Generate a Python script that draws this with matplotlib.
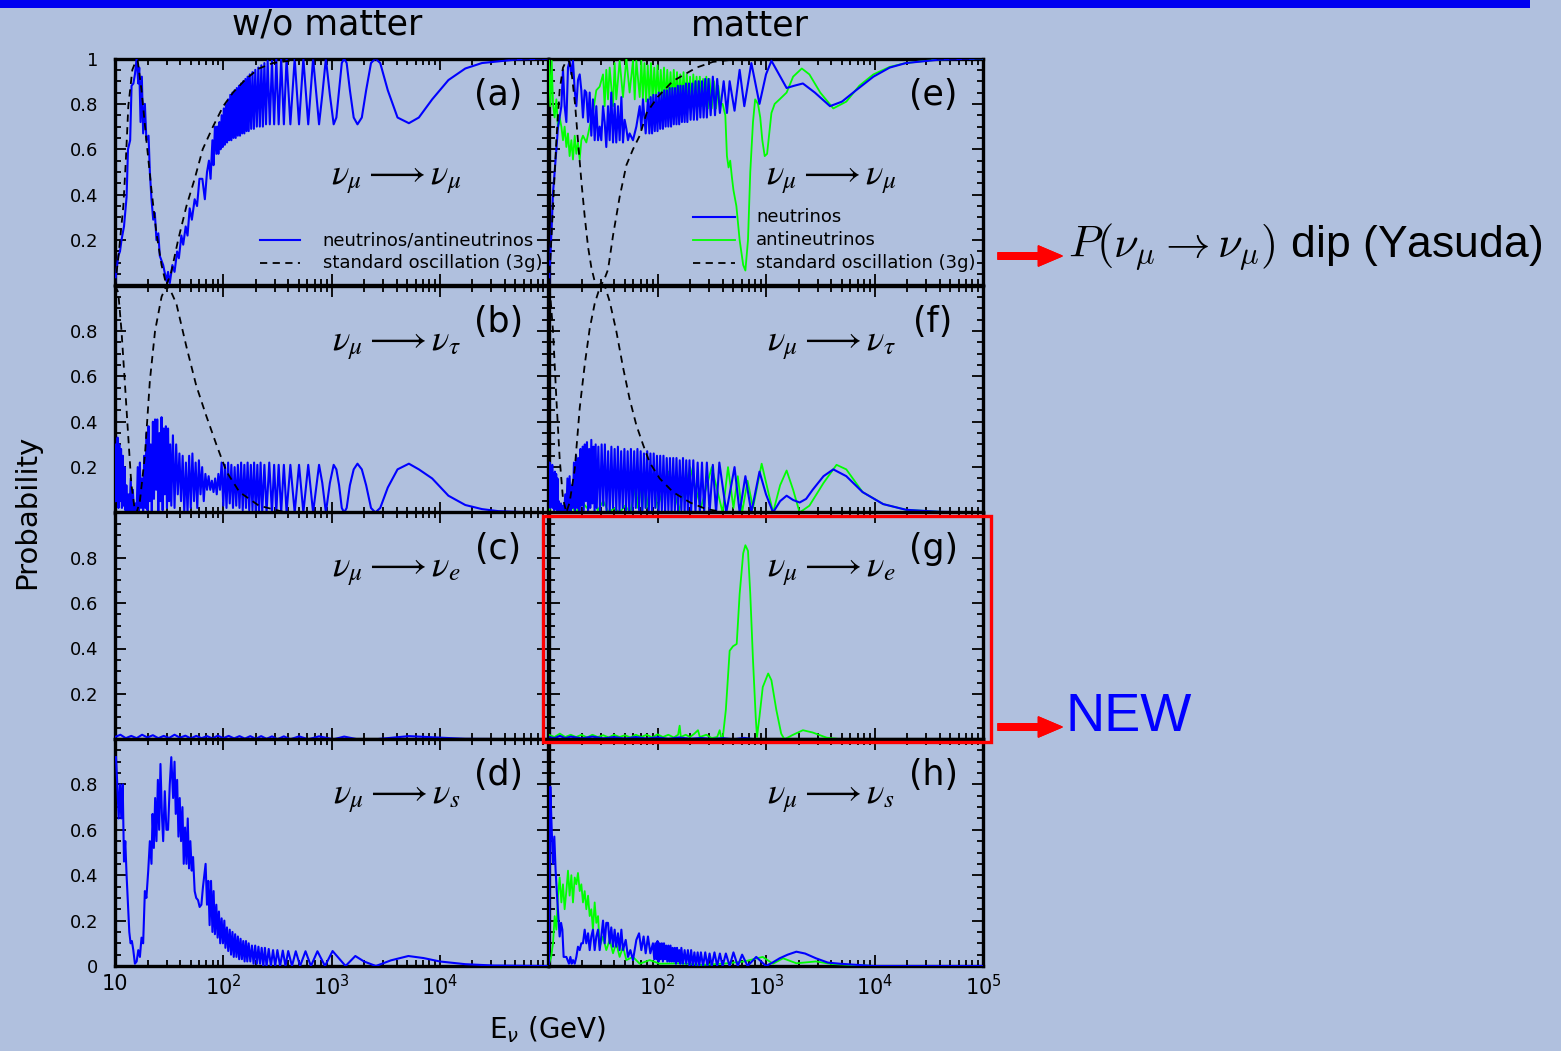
import matplotlib
matplotlib.use('Agg')
import numpy as np
import matplotlib.pyplot as plt
from matplotlib.patches import Rectangle
from matplotlib.ticker import MultipleLocator, NullFormatter

# curves as (log10 E [GeV], probability)

# (a) nu_mu -> nu_mu, no matter
a_nu = [(1.00, 0.01), (1.03, 0.13), (1.046, 0.15), (1.06, 0.20), (1.083, 0.26), (1.107, 0.39),
        (1.12, 0.60), (1.14, 0.64), (1.153, 0.88), (1.17, 0.89), (1.184, 0.93), (1.20, 1.00),
        (1.215, 0.89), (1.224, 0.96), (1.236, 0.72), (1.248, 0.92), (1.26, 0.67), (1.276, 0.80),
        (1.29, 0.64), (1.31, 0.66), (1.322, 0.50), (1.337, 0.38), (1.353, 0.29), (1.368, 0.32),
        (1.383, 0.20), (1.40, 0.23), (1.414, 0.13), (1.445, 0.09), (1.475, 0.02), (1.49, 0.06),
        (1.506, 0.01), (1.53, 0.09), (1.55, 0.06), (1.574, 0.15), (1.59, 0.12), (1.613, 0.22),
        (1.63, 0.18), (1.653, 0.26), (1.67, 0.22), (1.69, 0.34), (1.71, 0.29), (1.736, 0.38),
        (1.758, 0.35), (1.78, 0.47), (1.807, 0.47), (1.83, 0.38), (1.85, 0.50), (1.868, 0.55),
        (1.883, 0.47), (1.90, 0.64), (1.91, 0.53), (1.923, 0.70), (1.936, 0.58),
        (1.945, 0.70), (1.955, 0.58), (1.965, 0.72), (1.975, 0.60), (1.985, 0.75), (1.995, 0.61),
        (2.005, 0.78), (2.015, 0.62), (2.025, 0.80), (2.035, 0.63), (2.045, 0.82), (2.055, 0.64),
        (2.065, 0.84), (2.075, 0.64), (2.085, 0.85), (2.095, 0.65), (2.105, 0.86), (2.115, 0.65),
        (2.125, 0.87), (2.135, 0.66), (2.145, 0.88), (2.155, 0.66), (2.165, 0.89), (2.175, 0.67),
        (2.185, 0.90), (2.195, 0.67), (2.205, 0.91), (2.215, 0.68), (2.225, 0.92), (2.235, 0.68),
        (2.245, 0.93), (2.258, 0.69), (2.27, 0.94), (2.283, 0.69), (2.296, 0.95), (2.31, 0.70),
        (2.324, 0.96), (2.338, 0.70), (2.352, 0.97), (2.366, 0.70), (2.38, 0.98), (2.395, 0.71),
        (2.41, 0.99), (2.43, 0.71), (2.45, 0.99), (2.47, 0.71), (2.49, 1.0), (2.512, 0.71),
        (2.535, 1.0), (2.56, 0.71), (2.585, 1.0), (2.62, 0.71), (2.66, 1.0), (2.70, 0.71),
        (2.74, 1.0), (2.785, 0.71), (2.83, 1.0), (2.885, 0.71), (2.915, 0.84), (2.948, 1.0),
        (2.985, 0.84), (3.02, 0.71), (3.045, 0.74), (3.07, 0.86), (3.095, 0.98), (3.117, 1.0),
        (3.14, 0.98), (3.17, 0.86), (3.205, 0.74), (3.24, 0.71), (3.28, 0.74), (3.32, 0.86),
        (3.365, 0.98), (3.405, 1.0), (3.45, 0.98), (3.52, 0.86), (3.61, 0.74), (3.715, 0.715),
        (3.807, 0.74), (3.93, 0.82), (4.08, 0.905), (4.236, 0.956), (4.39, 0.98), (4.7, 0.995),
        (5.0, 1.0)]
a_std = [(1.0, 0.0), (1.03, 0.12), (1.077, 0.35), (1.10, 0.55), (1.123, 0.79), (1.16, 0.95),
         (1.193, 0.99), (1.21, 0.99), (1.245, 0.86), (1.29, 0.64), (1.337, 0.42), (1.383, 0.23),
         (1.43, 0.09), (1.475, 0.0), (1.52, 0.06), (1.583, 0.20), (1.66, 0.35), (1.736, 0.47),
         (1.81, 0.60), (1.905, 0.70), (2.0, 0.79), (2.09, 0.85), (2.21, 0.91), (2.33, 0.956),
         (2.46, 0.98), (2.61, 0.99), (2.8, 1.0), (5.0, 1.0)]

# (b) nu_mu -> nu_tau, no matter
b_nu = [(1.0, 0.05), (1.008, 0.30), (1.016, 0.05), (1.024, 0.33), (1.032, 0.02), (1.04, 0.30),
        (1.048, 0.05), (1.056, 0.28), (1.064, 0.02), (1.072, 0.25), (1.08, 0.03), (1.088, 0.20),
        (1.096, 0.01), (1.105, 0.12), (1.115, 0.0), (1.125, 0.08), (1.135, 0.0), (1.145, 0.15),
        (1.155, 0.01), (1.165, 0.10), (1.175, 0.0), (1.19, 0.04), (1.20, 0.0), (1.21, 0.20),
        (1.22, 0.0), (1.23, 0.22), (1.24, 0.02), (1.25, 0.15), (1.26, 0.0), (1.27, 0.25),
        (1.28, 0.02), (1.29, 0.35), (1.30, 0.01), (1.31, 0.38), (1.32, 0.05), (1.33, 0.30),
        (1.34, 0.0), (1.35, 0.40), (1.36, 0.06), (1.37, 0.41), (1.38, 0.10), (1.39, 0.41),
        (1.40, 0.0), (1.41, 0.35), (1.42, 0.05), (1.43, 0.42), (1.44, 0.01), (1.45, 0.37),
        (1.46, 0.08), (1.47, 0.38), (1.48, 0.02), (1.49, 0.37), (1.50, 0.05), (1.51, 0.30),
        (1.52, 0.03), (1.535, 0.34), (1.55, 0.02), (1.565, 0.30), (1.58, 0.08), (1.595, 0.26),
        (1.61, 0.05), (1.625, 0.25), (1.64, 0.0), (1.655, 0.22), (1.67, 0.0), (1.685, 0.25),
        (1.70, 0.02), (1.715, 0.26), (1.73, 0.05), (1.745, 0.22), (1.76, 0.02), (1.775, 0.23),
        (1.79, 0.08), (1.805, 0.20), (1.82, 0.05), (1.835, 0.17), (1.85, 0.10), (1.865, 0.16),
        (1.88, 0.10), (1.895, 0.14), (1.91, 0.09), (1.925, 0.15), (1.94, 0.08), (1.955, 0.17),
        (1.97, 0.10), (1.985, 0.22), (2.0, 0.03), (2.015, 0.21), (2.03, 0.02), (2.045, 0.22),
        (2.06, 0.04), (2.075, 0.21), (2.09, 0.02), (2.105, 0.20), (2.12, 0.03), (2.135, 0.21),
        (2.15, 0.02), (2.165, 0.22), (2.18, 0.01), (2.195, 0.21), (2.21, 0.02), (2.225, 0.22),
        (2.24, 0.01), (2.255, 0.21), (2.27, 0.01), (2.285, 0.22), (2.30, 0.0), (2.315, 0.21),
        (2.33, 0.0), (2.345, 0.22), (2.36, 0.0), (2.38, 0.21), (2.40, 0.0), (2.425, 0.22),
        (2.45, 0.0), (2.47, 0.21), (2.49, 0.0), (2.512, 0.21), (2.535, 0.0), (2.56, 0.21),
        (2.585, 0.0), (2.62, 0.21), (2.66, 0.0), (2.70, 0.21), (2.74, 0.0), (2.785, 0.21),
        (2.83, 0.0), (2.885, 0.21), (2.915, 0.13), (2.948, 0.0), (2.985, 0.13), (3.02, 0.21),
        (3.045, 0.19), (3.07, 0.12), (3.095, 0.02), (3.117, 0.0), (3.14, 0.02), (3.17, 0.12),
        (3.205, 0.19), (3.24, 0.215), (3.28, 0.19), (3.32, 0.12), (3.365, 0.02), (3.405, 0.0),
        (3.45, 0.02), (3.52, 0.11), (3.61, 0.19), (3.715, 0.215), (3.807, 0.19), (3.93, 0.15),
        (4.08, 0.074), (4.236, 0.033), (4.39, 0.015), (4.54, 0.006), (4.8, 0.001), (5.0, 0.0)]
b_std = [(1.0, 1.0), (1.03, 0.97), (1.06, 0.80), (1.09, 0.58), (1.123, 0.33), (1.15, 0.13),
         (1.18, 0.02), (1.20, 0.0), (1.23, 0.05), (1.276, 0.25), (1.322, 0.58), (1.37, 0.80),
         (1.43, 0.95), (1.475, 1.0), (1.52, 0.97), (1.567, 0.92), (1.66, 0.73), (1.75, 0.56),
         (1.84, 0.43), (1.936, 0.30), (2.03, 0.18), (2.15, 0.09), (2.33, 0.03), (2.58, 0.0),
         (5.0, 0.0)]

# (c) nu_mu -> nu_e, no matter
c_nu = [(1.0, 0.01), (1.05, 0.02), (1.1, 0.005), (1.15, 0.015), (1.2, 0.005), (1.25, 0.02),
        (1.3, 0.008), (1.35, 0.018), (1.4, 0.005), (1.45, 0.015), (1.5, 0.006), (1.55, 0.02),
        (1.6, 0.007), (1.65, 0.016), (1.7, 0.004), (1.75, 0.015), (1.8, 0.005), (1.85, 0.014),
        (1.9, 0.004), (1.95, 0.016), (2.0, 0.005), (2.05, 0.015), (2.1, 0.004), (2.15, 0.014),
        (2.2, 0.003), (2.25, 0.014), (2.3, 0.002), (2.35, 0.014), (2.4, 0.002), (2.45, 0.013),
        (2.5, 0.0), (2.56, 0.013), (2.62, 0.0), (2.70, 0.013), (2.785, 0.0), (2.885, 0.013),
        (3.02, 0.0), (3.117, 0.012), (3.24, 0.0), (3.405, 0.0), (3.715, 0.014), (3.93, 0.009),
        (4.236, 0.002), (5.0, 0.0)]

# (d) nu_mu -> nu_s, no matter
d_nu = [(1.009, 0.92), (1.021, 0.80), (1.034, 0.65), (1.046, 0.80), (1.058, 0.65), (1.071, 0.80),
        (1.083, 0.46), (1.095, 0.55), (1.107, 0.40), (1.12, 0.27), (1.132, 0.15), (1.144, 0.10),
        (1.156, 0.11), (1.169, 0.07), (1.184, 0.01), (1.2, 0.02), (1.215, 0.07), (1.23, 0.04),
        (1.245, 0.125), (1.26, 0.10), (1.276, 0.33), (1.29, 0.30), (1.307, 0.42), (1.322, 0.55),
        (1.337, 0.45), (1.347, 0.67), (1.359, 0.52), (1.371, 0.74), (1.383, 0.55), (1.396, 0.82),
        (1.408, 0.60), (1.42, 0.89), (1.433, 0.67), (1.445, 0.55), (1.46, 0.77), (1.475, 0.60),
        (1.49, 0.60), (1.506, 0.80), (1.52, 0.92), (1.537, 0.74), (1.55, 0.90), (1.561, 0.67),
        (1.574, 0.82), (1.586, 0.57), (1.598, 0.74), (1.61, 0.55), (1.623, 0.70), (1.635, 0.45),
        (1.647, 0.61), (1.66, 0.45), (1.672, 0.65), (1.684, 0.43), (1.696, 0.55), (1.709, 0.42),
        (1.721, 0.48), (1.736, 0.33), (1.75, 0.30), (1.767, 0.29), (1.782, 0.26), (1.798, 0.27),
        (1.813, 0.35), (1.837, 0.45), (1.85, 0.27), (1.862, 0.375), (1.874, 0.18), (1.887, 0.375),
        (1.9, 0.15), (1.911, 0.33), (1.923, 0.14), (1.936, 0.27), (1.948, 0.125), (1.96, 0.24),
        (1.972, 0.10), (1.985, 0.21), (1.997, 0.10), (2.01, 0.20), (2.02, 0.08), (2.034, 0.17),
        (2.046, 0.066), (2.06, 0.16), (2.072, 0.05), (2.085, 0.15), (2.097, 0.04), (2.11, 0.14),
        (2.122, 0.04), (2.135, 0.13), (2.147, 0.03), (2.16, 0.12), (2.172, 0.03), (2.185, 0.11),
        (2.197, 0.02), (2.21, 0.11), (2.222, 0.02), (2.235, 0.10), (2.25, 0.02), (2.265, 0.09),
        (2.28, 0.01), (2.295, 0.09), (2.31, 0.01), (2.325, 0.085), (2.34, 0.01), (2.355, 0.08),
        (2.37, 0.0), (2.385, 0.08), (2.40, 0.0), (2.42, 0.075), (2.44, 0.0), (2.46, 0.07),
        (2.48, 0.0), (2.50, 0.07), (2.525, 0.0), (2.55, 0.068), (2.575, 0.0), (2.60, 0.066),
        (2.635, 0.0), (2.67, 0.065), (2.71, 0.0), (2.76, 0.065), (2.81, 0.0), (2.87, 0.065),
        (2.94, 0.0), (3.01, 0.066), (3.13, 0.0), (3.22, 0.044), (3.30, 0.02), (3.41, 0.0),
        (3.55, 0.025), (3.71, 0.044), (3.85, 0.035), (4.0, 0.02), (4.236, 0.008), (4.5, 0.002),
        (5.0, 0.0)]

# (e) nu_mu -> nu_mu, matter
e_nu = [(1.0, 0.0), (1.012, 0.13), (1.025, 0.26), (1.037, 0.41), (1.052, 0.50), (1.068, 0.60),
        (1.083, 0.70), (1.098, 0.74), (1.114, 0.79), (1.129, 0.95), (1.144, 0.79), (1.16, 0.72),
        (1.175, 0.96), (1.19, 0.99), (1.206, 0.93), (1.221, 0.99), (1.237, 0.86), (1.252, 0.79),
        (1.267, 0.905), (1.283, 0.93), (1.298, 0.86), (1.313, 0.74), (1.329, 0.86), (1.344, 0.85),
        (1.36, 0.72), (1.375, 0.85), (1.39, 0.66), (1.405, 0.82), (1.421, 0.64), (1.436, 0.79),
        (1.452, 0.64), (1.467, 0.70), (1.482, 0.64), (1.498, 0.79), (1.513, 0.72), (1.528, 0.61),
        (1.544, 0.79), (1.559, 0.64), (1.574, 0.85), (1.59, 0.63), (1.605, 0.80), (1.62, 0.63),
        (1.636, 0.79), (1.651, 0.64), (1.667, 0.83), (1.682, 0.63), (1.697, 0.73), (1.713, 0.69),
        (1.728, 0.64), (1.743, 0.67), (1.774, 0.64), (1.805, 0.70), (1.836, 0.79), (1.851, 0.69),
        (1.866, 0.82), (1.891, 0.67), (1.912, 0.82), (1.925, 0.67), (1.937, 0.83), (1.95, 0.67),
        (1.962, 0.84), (1.975, 0.68), (1.987, 0.84), (2.0, 0.68), (2.012, 0.85), (2.025, 0.69),
        (2.037, 0.85), (2.05, 0.69), (2.062, 0.86), (2.075, 0.70), (2.087, 0.86), (2.10, 0.70),
        (2.112, 0.87), (2.125, 0.70), (2.137, 0.87), (2.15, 0.71), (2.162, 0.87), (2.175, 0.71),
        (2.187, 0.88), (2.20, 0.71), (2.212, 0.88), (2.225, 0.72), (2.237, 0.88), (2.25, 0.72),
        (2.262, 0.89), (2.275, 0.72), (2.29, 0.89), (2.305, 0.73), (2.32, 0.89), (2.335, 0.73),
        (2.35, 0.90), (2.365, 0.73), (2.38, 0.90), (2.395, 0.74), (2.41, 0.90), (2.425, 0.74),
        (2.44, 0.91), (2.455, 0.74), (2.47, 0.91), (2.49, 0.75), (2.51, 0.92), (2.53, 0.75),
        (2.55, 0.91), (2.575, 0.76), (2.61, 0.90), (2.64, 0.76), (2.665, 0.90), (2.71, 0.77),
        (2.757, 0.95), (2.80, 0.79), (2.865, 0.98), (2.94, 0.80), (3.0, 0.93), (3.05, 0.99),
        (3.12, 0.93), (3.19, 0.87), (3.26, 0.88), (3.34, 0.89), (3.45, 0.85), (3.59, 0.79),
        (3.70, 0.81), (3.83, 0.86), (3.99, 0.92), (4.14, 0.96), (4.29, 0.98), (4.6, 0.995),
        (5.0, 1.0)]
e_anu = [(1.0, 0.99), (1.012, 0.79), (1.025, 0.99), (1.037, 0.80), (1.052, 0.74), (1.068, 0.82),
         (1.083, 0.69), (1.098, 0.74), (1.114, 0.70), (1.129, 0.64), (1.144, 0.70), (1.16, 0.61),
         (1.175, 0.67), (1.19, 0.57), (1.206, 0.64), (1.221, 0.555), (1.237, 0.66), (1.252, 0.58),
         (1.267, 0.63), (1.283, 0.555), (1.298, 0.64), (1.313, 0.66), (1.344, 0.63), (1.375, 0.70),
         (1.405, 0.76), (1.436, 0.86), (1.467, 0.876), (1.498, 0.93), (1.513, 0.79), (1.528, 0.95),
         (1.544, 0.82), (1.559, 0.96), (1.59, 0.79), (1.605, 0.98), (1.62, 0.82), (1.651, 0.99),
         (1.682, 0.83), (1.713, 1.0), (1.743, 0.85), (1.774, 0.99), (1.79, 0.82), (1.805, 0.99),
         (1.836, 0.83), (1.851, 0.99), (1.865, 0.82), (1.88, 0.98), (1.895, 0.81), (1.91, 0.97),
         (1.925, 0.82), (1.94, 0.98), (1.955, 0.81), (1.97, 0.96), (1.985, 0.82), (2.0, 0.97),
         (2.015, 0.81), (2.03, 0.95), (2.045, 0.82), (2.06, 0.96), (2.075, 0.81), (2.09, 0.95),
         (2.105, 0.82), (2.12, 0.94), (2.135, 0.81), (2.15, 0.95), (2.165, 0.82), (2.18, 0.94),
         (2.195, 0.81), (2.21, 0.93), (2.225, 0.82), (2.24, 0.94), (2.255, 0.81), (2.27, 0.93),
         (2.285, 0.80), (2.30, 0.92), (2.315, 0.80), (2.33, 0.93), (2.345, 0.80), (2.36, 0.92),
         (2.375, 0.79), (2.39, 0.92), (2.405, 0.79), (2.42, 0.91), (2.435, 0.79), (2.45, 0.92),
         (2.465, 0.78), (2.48, 0.91), (2.50, 0.78), (2.52, 0.90), (2.54, 0.78), (2.56, 0.88),
         (2.58, 0.80), (2.60, 0.80), (2.625, 0.75), (2.64, 0.57), (2.655, 0.52), (2.67, 0.55),
         (2.685, 0.48), (2.70, 0.42), (2.727, 0.35), (2.757, 0.20), (2.79, 0.09), (2.81, 0.066),
         (2.834, 0.20), (2.855, 0.50), (2.88, 0.72), (2.90, 0.82), (2.926, 0.80), (2.947, 0.74),
         (2.966, 0.64), (2.988, 0.57), (3.01, 0.58), (3.03, 0.67), (3.05, 0.76), (3.08, 0.80),
         (3.125, 0.82), (3.19, 0.85), (3.25, 0.92), (3.33, 0.956), (3.40, 0.93), (3.50, 0.85),
         (3.62, 0.78), (3.74, 0.81), (3.86, 0.88), (3.99, 0.93), (4.14, 0.963), (4.29, 0.98),
         (4.6, 0.996), (5.0, 1.0)]
e_std = [(1.0, 0.0), (1.037, 0.35), (1.068, 0.64), (1.098, 0.86), (1.129, 0.96), (1.16, 0.99),
         (1.184, 0.99), (1.21, 0.93), (1.24, 0.80), (1.27, 0.62), (1.30, 0.45), (1.33, 0.30),
         (1.36, 0.17), (1.39, 0.08), (1.42, 0.02), (1.452, 0.0), (1.49, 0.01), (1.52, 0.04),
         (1.544, 0.07), (1.59, 0.22), (1.651, 0.39), (1.713, 0.53), (1.774, 0.60), (1.836, 0.66),
         (1.9, 0.76), (2.0, 0.83), (2.14, 0.90), (2.25, 0.93), (2.36, 0.96), (2.51, 0.985),
         (2.6, 0.99), (2.8, 1.0), (5.0, 1.0)]

# (f) nu_mu -> nu_tau, matter
f_nu = [(1.0, 0.05), (1.006, 0.22), (1.012, 0.02), (1.018, 0.20), (1.024, 0.03), (1.03, 0.21),
        (1.036, 0.02), (1.042, 0.17), (1.048, 0.01), (1.054, 0.18), (1.06, 0.02), (1.066, 0.17),
        (1.072, 0.01), (1.078, 0.15), (1.084, 0.0), (1.09, 0.05), (1.10, 0.0), (1.11, 0.04),
        (1.12, 0.0), (1.13, 0.03), (1.14, 0.0), (1.15, 0.08), (1.16, 0.0), (1.17, 0.15),
        (1.18, 0.01), (1.19, 0.16), (1.20, 0.0), (1.21, 0.12), (1.22, 0.02), (1.23, 0.22),
        (1.24, 0.01), (1.25, 0.25), (1.26, 0.02), (1.27, 0.24), (1.28, 0.0), (1.29, 0.28),
        (1.30, 0.03), (1.31, 0.29), (1.32, 0.01), (1.33, 0.30), (1.34, 0.05), (1.35, 0.31),
        (1.36, 0.0), (1.37, 0.28), (1.38, 0.02), (1.39, 0.32), (1.40, 0.04), (1.41, 0.29),
        (1.42, 0.0), (1.43, 0.30), (1.44, 0.02), (1.455, 0.29), (1.47, 0.0), (1.485, 0.30),
        (1.50, 0.03), (1.515, 0.30), (1.53, 0.01), (1.545, 0.27), (1.56, 0.0), (1.575, 0.29),
        (1.59, 0.02), (1.605, 0.28), (1.62, 0.01), (1.635, 0.29), (1.65, 0.0), (1.665, 0.27),
        (1.68, 0.02), (1.695, 0.28), (1.71, 0.01), (1.725, 0.27), (1.74, 0.0), (1.755, 0.28),
        (1.77, 0.01), (1.785, 0.27), (1.80, 0.02), (1.815, 0.28), (1.83, 0.01), (1.845, 0.27),
        (1.86, 0.0), (1.875, 0.26), (1.89, 0.02), (1.905, 0.27), (1.92, 0.01), (1.935, 0.26),
        (1.95, 0.0), (1.965, 0.26), (1.98, 0.02), (1.995, 0.25), (2.01, 0.0), (2.025, 0.25),
        (2.04, 0.01), (2.055, 0.25), (2.07, 0.0), (2.085, 0.24), (2.10, 0.01), (2.115, 0.24),
        (2.13, 0.0), (2.145, 0.24), (2.16, 0.01), (2.175, 0.24), (2.19, 0.0), (2.205, 0.23),
        (2.22, 0.01), (2.235, 0.24), (2.25, 0.0), (2.265, 0.23), (2.28, 0.0), (2.295, 0.23),
        (2.31, 0.0), (2.33, 0.23), (2.35, 0.0), (2.37, 0.22), (2.39, 0.0), (2.41, 0.22),
        (2.43, 0.0), (2.455, 0.22), (2.48, 0.0), (2.51, 0.21), (2.54, 0.0), (2.57, 0.22),
        (2.634, 0.0), (2.71, 0.20), (2.757, 0.0), (2.81, 0.16), (2.865, 0.0), (2.94, 0.18),
        (3.0, 0.08), (3.065, 0.0), (3.13, 0.05), (3.19, 0.074), (3.25, 0.055), (3.31, 0.044),
        (3.37, 0.06), (3.43, 0.10), (3.53, 0.16), (3.62, 0.19), (3.74, 0.16), (3.89, 0.09),
        (4.08, 0.037), (4.29, 0.012), (4.6, 0.003), (5.0, 0.0)]
f_anu = [(1.0, 0.0), (1.02, 0.05), (1.04, 0.02), (1.05, 0.10), (1.06, 0.03), (1.07, 0.09),
         (1.08, 0.0), (1.10, 0.02), (1.15, 0.0), (1.2, 0.03), (1.25, 0.0), (1.3, 0.05),
         (1.35, 0.02), (1.4, 0.06), (1.45, 0.01), (1.5, 0.05), (1.55, 0.0), (1.6, 0.02),
         (1.65, 0.0), (1.7, 0.03), (1.75, 0.0), (1.8, 0.12), (1.82, 0.02), (1.84, 0.14),
         (1.86, 0.01), (1.88, 0.15), (1.90, 0.02), (1.95, 0.17), (2.0, 0.02), (2.1, 0.18),
         (2.2, 0.01), (2.3, 0.2), (2.4, 0.02), (2.5, 0.2), (2.60, 0.0), (2.65, 0.2),
         (2.70, 0.02), (2.74, 0.16), (2.78, 0.0), (2.83, 0.14), (2.88, 0.02), (2.96, 0.215),
         (3.065, 0.0), (3.13, 0.12), (3.19, 0.185), (3.25, 0.1), (3.31, 0.0), (3.40, 0.03),
         (3.53, 0.13), (3.65, 0.21), (3.74, 0.19), (3.89, 0.09), (4.08, 0.037), (4.29, 0.012),
         (4.6, 0.003), (5.0, 0.0)]
f_std = [(1.006, 0.99), (1.037, 0.80), (1.068, 0.50), (1.098, 0.24), (1.129, 0.06), (1.16, 0.0),
         (1.19, 0.044), (1.237, 0.19), (1.283, 0.46), (1.329, 0.65), (1.375, 0.81), (1.421, 0.92),
         (1.467, 0.99), (1.513, 1.0), (1.559, 0.93), (1.62, 0.80), (1.682, 0.64), (1.743, 0.50),
         (1.805, 0.385), (1.866, 0.30), (1.928, 0.22), (2.02, 0.15), (2.143, 0.09), (2.30, 0.044),
         (2.45, 0.015), (2.634, 0.0), (5.0, 0.0)]

# (g) nu_mu -> nu_e, matter
g_nu = [(1.0, 0.01), (1.05, 0.005), (1.1, 0.015), (1.15, 0.005), (1.2, 0.012), (1.3, 0.004),
        (1.4, 0.012), (1.5, 0.004), (1.6, 0.01), (1.7, 0.003), (1.8, 0.01), (1.9, 0.003),
        (2.0, 0.009), (2.1, 0.002), (2.2, 0.008), (2.3, 0.002), (2.4, 0.006), (2.5, 0.001),
        (2.6, 0.005), (2.7, 0.0), (2.8, 0.006), (2.9, 0.0), (5.0, 0.0)]
g_anu = [(1.0, 0.02), (1.05, 0.01), (1.1, 0.025), (1.15, 0.01), (1.2, 0.02), (1.25, 0.01),
         (1.3, 0.02), (1.35, 0.008), (1.4, 0.02), (1.45, 0.01), (1.5, 0.018), (1.55, 0.008),
         (1.6, 0.02), (1.65, 0.01), (1.7, 0.018), (1.75, 0.008), (1.8, 0.02), (1.85, 0.01),
         (1.9, 0.02), (1.95, 0.008), (2.0, 0.022), (2.05, 0.01), (2.1, 0.02), (2.15, 0.008),
         (2.19, 0.02), (2.204, 0.06), (2.215, 0.01), (2.26, 0.02), (2.30, 0.01), (2.34, 0.025),
         (2.373, 0.04), (2.39, 0.01), (2.45, 0.02), (2.5, 0.005), (2.55, 0.01), (2.573, 0.04),
         (2.59, 0.0), (2.60, 0.0), (2.63, 0.13), (2.665, 0.39), (2.696, 0.41), (2.73, 0.42),
         (2.757, 0.64), (2.79, 0.82), (2.81, 0.855), (2.834, 0.83), (2.855, 0.64), (2.88, 0.35),
         (2.905, 0.10), (2.917, 0.01), (2.94, 0.10), (2.97, 0.23), (3.02, 0.29), (3.05, 0.26),
         (3.095, 0.13), (3.14, 0.025), (3.17, 0.0), (3.25, 0.02), (3.34, 0.04), (3.43, 0.03),
         (3.56, 0.007), (3.7, 0.0), (5.0, 0.0)]

# (h) nu_mu -> nu_s, matter
h_nu = [(1.0, 0.01), (1.012, 0.79), (1.025, 0.60), (1.037, 0.45), (1.049, 0.57), (1.061, 0.42),
        (1.074, 0.31), (1.086, 0.22), (1.098, 0.13), (1.111, 0.19), (1.123, 0.16), (1.135, 0.04),
        (1.16, 0.04), (1.184, 0.01), (1.197, 0.04), (1.209, 0.01), (1.221, 0.026), (1.237, 0.01),
        (1.252, 0.04), (1.267, 0.085), (1.283, 0.07), (1.298, 0.10), (1.313, 0.10), (1.329, 0.16),
        (1.344, 0.10), (1.36, 0.144), (1.375, 0.07), (1.39, 0.13), (1.405, 0.16), (1.421, 0.07),
        (1.436, 0.13), (1.452, 0.16), (1.467, 0.07), (1.482, 0.13), (1.498, 0.20), (1.513, 0.10),
        (1.528, 0.19), (1.544, 0.19), (1.559, 0.10), (1.574, 0.17), (1.59, 0.085), (1.605, 0.16),
        (1.62, 0.085), (1.636, 0.144), (1.651, 0.07), (1.667, 0.16), (1.682, 0.07), (1.707, 0.115),
        (1.728, 0.04), (1.75, 0.07), (1.774, 0.026), (1.805, 0.115), (1.83, 0.144), (1.851, 0.07),
        (1.872, 0.13), (1.891, 0.056), (1.912, 0.13), (1.934, 0.056), (1.958, 0.10), (1.97, 0.03),
        (1.98, 0.10), (1.99, 0.03), (2.0, 0.11), (2.01, 0.02), (2.02, 0.10), (2.03, 0.03),
        (2.04, 0.10), (2.05, 0.02), (2.06, 0.10), (2.07, 0.03), (2.08, 0.09), (2.09, 0.02),
        (2.10, 0.09), (2.11, 0.02), (2.12, 0.09), (2.13, 0.02), (2.14, 0.08), (2.15, 0.02),
        (2.16, 0.08), (2.17, 0.01), (2.18, 0.08), (2.19, 0.02), (2.20, 0.07), (2.21, 0.01),
        (2.22, 0.08), (2.235, 0.01), (2.25, 0.07), (2.265, 0.01), (2.28, 0.07), (2.295, 0.0),
        (2.31, 0.07), (2.325, 0.0), (2.34, 0.06), (2.355, 0.0), (2.37, 0.06), (2.385, 0.0),
        (2.40, 0.06), (2.42, 0.0), (2.44, 0.06), (2.46, 0.0), (2.48, 0.055), (2.50, 0.0),
        (2.525, 0.06), (2.55, 0.0), (2.575, 0.055), (2.60, 0.0), (2.63, 0.055), (2.665, 0.0),
        (2.70, 0.06), (2.74, 0.0), (2.78, 0.05), (2.83, 0.0), (2.91, 0.04), (3.0, 0.0),
        (3.06, 0.015), (3.126, 0.034), (3.2, 0.05), (3.28, 0.063), (3.36, 0.055), (3.46, 0.034),
        (3.57, 0.015), (3.68, 0.01), (3.99, 0.0), (5.0, 0.0)]
h_anu = [(1.0, 0.01), (1.02, 0.04), (1.037, 0.10), (1.052, 0.22), (1.068, 0.16), (1.083, 0.31),
         (1.098, 0.39), (1.114, 0.28), (1.129, 0.36), (1.144, 0.25), (1.16, 0.33), (1.175, 0.42),
         (1.19, 0.31), (1.206, 0.40), (1.221, 0.28), (1.237, 0.39), (1.252, 0.36), (1.267, 0.41),
         (1.283, 0.33), (1.298, 0.36), (1.313, 0.28), (1.329, 0.33), (1.344, 0.25), (1.36, 0.31),
         (1.375, 0.22), (1.39, 0.25), (1.405, 0.16), (1.421, 0.28), (1.436, 0.19), (1.452, 0.22),
         (1.467, 0.085), (1.498, 0.13), (1.528, 0.07), (1.559, 0.115), (1.59, 0.056), (1.62, 0.10),
         (1.651, 0.04), (1.682, 0.085), (1.713, 0.026), (1.774, 0.04), (1.836, 0.01), (1.928, 0.026),
         (2.02, 0.01), (2.2, 0.012), (2.4, 0.005), (2.6, 0.01), (2.8, 0.02), (2.97, 0.04),
         (3.065, 0.01), (3.157, 0.034), (3.28, 0.012), (3.46, 0.02), (3.6, 0.009), (4.0, 0.0),
         (5.0, 0.0)]

panel_tags = ['a', 'b', 'c', 'd', 'e', 'f', 'g', 'h']
final_flavour = ['\\mu', '\\tau', 'e', 's']
column_titles = ['w/o matter', 'matter']

BG = '#b0c0de'
BLUE = '#0000ff'
GREEN = '#00ff00'

W, H = 1561, 1051
fig = plt.figure(figsize=(W / 100, H / 100), dpi=100, facecolor=BG)

col_x = [115, 549]
col_w = [433, 434]
row_top = [58.5, 285.5, 512.3, 739.0]
row_h = 227.0

curves = {
    'a': [(a_nu, BLUE, '-'), (a_std, 'black', '--')],
    'b': [(b_nu, BLUE, '-'), (b_std, 'black', '--')],
    'c': [(c_nu, BLUE, '-')],
    'd': [(d_nu, BLUE, '-')],
    'e': [(e_anu, GREEN, '-'), (e_nu, BLUE, '-'), (e_std, 'black', '--')],
    'f': [(f_anu, GREEN, '-'), (f_nu, BLUE, '-'), (f_std, 'black', '--')],
    'g': [(g_anu, GREEN, '-'), (g_nu, BLUE, '-')],
    'h': [(h_anu, GREEN, '-'), (h_nu, BLUE, '-')],
}


def draw(ax, pts, color, ls):
    lg, p = zip(*pts)
    e = 10 ** np.array(lg)
    if ls == '--':
        ax.plot(e, p, color=color, lw=1.3, ls=(0, (4, 3)), zorder=4)
    else:
        ax.plot(e, p, color=color, lw=1.5 if color == BLUE else 1.3, zorder=3)


axes = {}
for col in range(2):
    for row in range(4):
        tag = panel_tags[col * 4 + row]
        ax = fig.add_axes([col_x[col] / W, 1 - (row_top[row] + row_h) / H,
                           col_w[col] / W, row_h / H])
        ax.set_facecolor(BG)
        ax.set_xscale('log')
        ax.set_xlim(10, 1e5)
        ax.set_ylim(0, 1)
        for sp in ax.spines.values():
            sp.set_linewidth(2.4)
        ax.yaxis.set_minor_locator(MultipleLocator(0.05))
        ax.xaxis.set_minor_formatter(NullFormatter())
        ax.tick_params(which='both', direction='in', top=True, right=True, width=1.3)
        ax.tick_params(which='major', length=8)
        ax.tick_params(which='minor', length=4)
        ax.tick_params(axis='y', pad=12, labelsize=13)
        ax.tick_params(axis='x', pad=6, labelsize=15)

        if col == 0:
            if row == 0:
                ax.set_yticks([0.2, 0.4, 0.6, 0.8, 1.0], ['0.2', '0.4', '0.6', '0.8', '1'])
            elif row == 3:
                ax.set_yticks([0, 0.2, 0.4, 0.6, 0.8], ['0', '0.2', '0.4', '0.6', '0.8'])
            else:
                ax.set_yticks([0.2, 0.4, 0.6, 0.8], ['0.2', '0.4', '0.6', '0.8'])
        else:
            ax.set_yticks([0.2, 0.4, 0.6, 0.8])
            ax.tick_params(axis='y', labelleft=False)

        if row == 3:
            if col == 0:
                ax.set_xticks([10, 1e2, 1e3, 1e4, 1e5],
                              ['10', '$10^{2}$', '$10^{3}$', '$10^{4}$', ''])
            else:
                ax.set_xticks([10, 1e2, 1e3, 1e4, 1e5],
                              ['', '$10^{2}$', '$10^{3}$', '$10^{4}$', '$10^{5}$'])
        else:
            ax.set_xticks([10, 1e2, 1e3, 1e4, 1e5])
            ax.tick_params(axis='x', labelbottom=False)

        for pts, color, ls in curves[tag]:
            draw(ax, pts, color, ls)

        ax.text(0.885, 0.84, f'({tag})', transform=ax.transAxes, fontsize=25,
                ha='center', va='center')
        ny = 0.47 if row == 0 else 0.74
        ax.text(0.65, ny, r'$\nu_\mu \longrightarrow \nu_' + final_flavour[row] + '$',
                transform=ax.transAxes, fontsize=26, ha='center', va='center',
                math_fontfamily='stix')
        axes[tag] = ax

# legends drawn by hand, as on the slide
ax = axes['a']
ax.plot([0.335, 0.427], [0.2, 0.2], color=BLUE, lw=1.5, transform=ax.transAxes)
ax.plot([0.335, 0.427], [0.097, 0.097], color='black', lw=1.3, ls=(0, (4, 3)),
        transform=ax.transAxes)
ax.text(0.48, 0.2, 'neutrinos/antineutrinos', transform=ax.transAxes, fontsize=13,
        va='center')
ax.text(0.48, 0.097, 'standard oscillation (3g)', transform=ax.transAxes, fontsize=13,
        va='center')

ax = axes['e']
ax.plot([0.332, 0.429], [0.30, 0.30], color=BLUE, lw=1.5, transform=ax.transAxes)
ax.plot([0.332, 0.429], [0.2, 0.2], color=GREEN, lw=1.3, transform=ax.transAxes)
ax.plot([0.332, 0.429], [0.097, 0.097], color='black', lw=1.3, ls=(0, (4, 3)),
        transform=ax.transAxes)
ax.text(0.477, 0.30, 'neutrinos', transform=ax.transAxes, fontsize=13, va='center')
ax.text(0.477, 0.2, 'antineutrinos', transform=ax.transAxes, fontsize=13, va='center')
ax.text(0.477, 0.097, 'standard oscillation (3g)', transform=ax.transAxes, fontsize=13,
        va='center')

# titles and axis labels
fig.text(327 / W, 1 - 25 / H, column_titles[0], fontsize=25, ha='center', va='center')
fig.text(750 / W, 1 - 25 / H, column_titles[1], fontsize=25, ha='center', va='center')
fig.text(27 / W, 1 - 512 / H, 'Probability', fontsize=21, rotation=90,
         ha='center', va='center')
fig.text(548 / W, 1 - 1030 / H, r'E$_\nu$ (GeV)', fontsize=20, ha='center', va='center')

# slide decorations
fig.add_artist(Rectangle((0, 1 - 8 / H), 1530 / W, 8 / H, transform=fig.transFigure,
                         color='#0000f0', lw=0))
fig.add_artist(Rectangle((543 / W, 1 - 742 / H), (991 - 543) / W, (742 - 516) / H,
                         transform=fig.transFigure, fill=False, ec='#ff0000', lw=2.4,
                         zorder=10))
for y in (256, 727):
    fig.add_artist(plt.annotate('', xy=(1062, H - y), xytext=(998, H - y),
                                xycoords='figure pixels', textcoords='figure pixels',
                                arrowprops=dict(arrowstyle='simple,head_length=1.0,'
                                                'head_width=0.85,tail_width=0.28',
                                                color='#ff0000', mutation_scale=17,
                                                shrinkA=0, shrinkB=0)))
fig.text(1068 / W, 1 - 247 / H, r'$P(\nu_\mu \rightarrow \nu_\mu)$ dip (Yasuda)',
         fontsize=32, family='Liberation Sans', math_fontfamily='cm',
         ha='left', va='center')
fig.text(1066 / W, 1 - 717 / H, 'NEW', fontsize=39, family='Liberation Sans',
         color='#0000ff', ha='left', va='center')

fig.savefig('out.png', dpi=100, facecolor=BG)
